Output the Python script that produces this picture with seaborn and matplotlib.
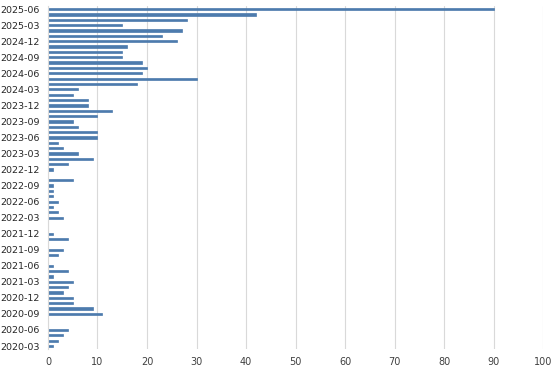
import matplotlib
matplotlib.use("Agg")
import matplotlib.pyplot as plt
import seaborn as sns
import pandas as pd

# monthly counts, 2020-03 .. 2025-06
months = pd.period_range("2020-03", "2025-06", freq="M").strftime("%Y-%m").tolist()
counts = [
    1, 2, 3, 4, 0, 0, 11, 9, 5, 5,          # 2020
    3, 4, 5, 1, 4, 1, 0, 2, 3, 0, 4, 1,     # 2021
    0, 0, 3, 2, 1, 2, 1, 1, 1, 5, 0, 1,     # 2022
    4, 9, 6, 3, 2, 10, 10, 6, 5, 10, 13, 8, # 2023
    8, 5, 6, 18, 30, 19, 20, 19, 15, 15, 16, 26,  # 2024
    23, 27, 15, 28, 42, 90,                 # 2025
]
x_ticks = list(range(0, 101, 10))

df = pd.DataFrame({"month": months, "count": counts})
order = months[::-1]

sns.set_style("white")
plt.rcParams["font.family"] = ["DejaVu Sans"]

fig = plt.figure(figsize=(5.6, 3.72), dpi=100)
ax = fig.add_axes([0.0857, 0.0626, 0.884, 0.920])

bar_col = "#4d7bad"
sns.barplot(data=df, x="count", y="month", order=order, orient="h",
            color=bar_col, saturation=1, width=0.42, ax=ax,
            edgecolor=bar_col, linewidth=0.5)

ax.set_xlim(0, 100)
ax.set_ylim(len(order) - 0.5, -0.5)
ax.set_xticks(x_ticks)
ax.set_xticklabels([str(v) for v in x_ticks], fontsize=7, color="#404040")

pos = [i for i, m in enumerate(order) if int(m[-2:]) % 3 == 0]
ax.set_yticks(pos)
ax.set_yticklabels([order[i] for i in pos], fontsize=6.8, color="#262626")

ax.xaxis.grid(True, color="#d9d9d9", linewidth=0.8)
ax.set_axisbelow(True)
ax.tick_params(length=0, pad=6)
ax.set_xlabel("")
ax.set_ylabel("")
for s in ["top", "right", "bottom"]:
    ax.spines[s].set_visible(False)
ax.spines["left"].set_color("#d9d9d9")

fig.savefig("out.png", dpi=100)
